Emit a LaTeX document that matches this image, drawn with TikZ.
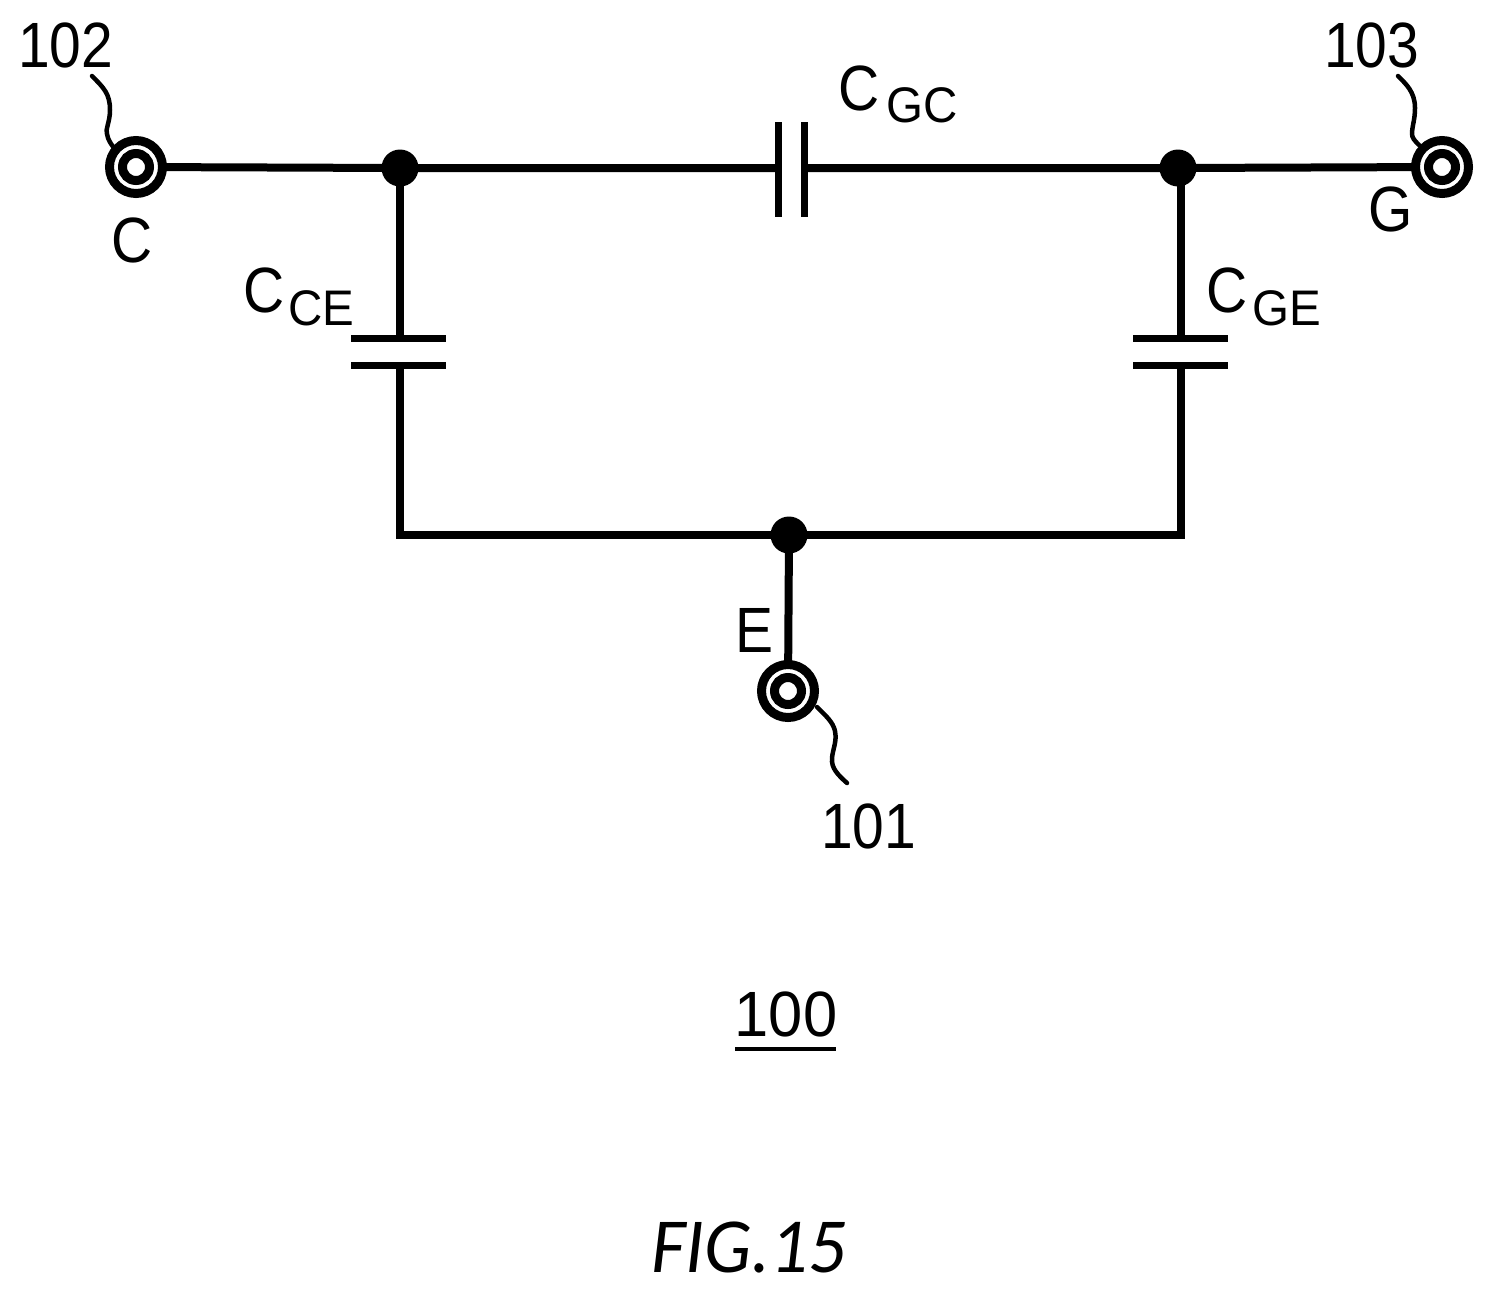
\documentclass[tikz,border=0pt]{standalone}
\usepackage{graphicx}
\usepackage{fontspec}
\setmainfont{Liberation Sans}
\newfontfamily\figfont{Carlito}
\newcommand{\nar}[1]{\scalebox{.89}[1]{#1}}
\newcommand{\narb}[1]{\scalebox{.95}[1]{#1}}
\tikzset{
  x=1pt,y=-1pt,
  wire/.style={line width=8pt},
  lead/.style={line width=4.5pt,line cap=round},
  plate/.style={line width=7pt},
  dotnode/.style={circle,fill=black,inner sep=0pt,minimum size=37pt},
  termout/.style={circle,draw=black,fill=white,line width=9pt,inner sep=0pt,minimum size=53pt},
  termin/.style={circle,draw=black,fill=white,line width=9pt,inner sep=0pt,minimum size=27pt},
  lab/.style={inner sep=0pt,font=\fontsize{64}{64}\selectfont},
  sub/.style={inner sep=0pt,font=\fontsize{50}{50}\selectfont},
}
\begin{document}
\begin{tikzpicture}
\useasboundingbox[fill=white] (0,0) rectangle (1496,1293);
% junctions and terminals
\coordinate (jc) at (400,168);
\coordinate (jg) at (1178,168);
\coordinate (je) at (789,535);
\coordinate (bl) at (400,535);
\coordinate (br) at (1181,535);
\coordinate (tc) at (136,167);
\coordinate (tg) at (1442,167);
\coordinate (te) at (788,691);
\coordinate (gcl) at (778,168);
\coordinate (gcr) at (804,168);
\coordinate (cet) at (400,338);
\coordinate (ceb) at (400,365);
\coordinate (get) at (1181,338);
\coordinate (geb) at (1181,365);
\coordinate (gt) at (1181,168);
% wires
\draw[wire] (tc) -- (jc) -- (gcl);
\draw[wire] (gcr) -- (jg) -- (tg);
\draw[wire] (jc) -- (cet);
\draw[wire] (ceb) -- (bl) -- (br) -- (geb);
\draw[wire] (gt) -- (get);
\draw[wire] (je) -- (te);
% plates
\draw[plate] (778,122) -- (778,217);
\draw[plate] (804,122) -- (804,217);
\draw[plate] (351,338) -- (446,338);
\draw[plate] (351,365) -- (446,365);
\draw[plate] (1133,338) -- (1228,338);
\draw[plate] (1133,365) -- (1228,365);
% dots
\node[dotnode] (d1) at (jc) {};
\node[dotnode] (d2) at (jg) {};
\node[dotnode] (d3) at (je) {};
% leads
\coordinate (l102) at (92,76);
\coordinate (l103) at (1398,76);
\coordinate (l101) at (847,783);
\draw[lead] (l102) .. controls (104,88) and (110,94) .. (110,110) .. controls (110,122) and (105,130) .. (107,134) .. controls (108,140) and (111,144) .. (114,148);
\draw[lead] (l103) .. controls (1406,84) and (1415,92) .. (1415,108) .. controls (1415,120) and (1412,126) .. (1412,134) .. controls (1412,138) and (1415,141) .. (1419,145);
\draw[lead] (l101) .. controls (838,775) and (831,768) .. (832,758) .. controls (833,748) and (837,742) .. (835,731) .. controls (833,722) and (826,716) .. (817,707);
% terminals
\node[termout] (t1) at (tc) {};
\node[termin] (t1i) at (tc) {};
\node[termout] (t2) at (tg) {};
\node[termin] (t2i) at (tg) {};
\node[termout] (t3) at (te) {};
\node[termin] (t3i) at (te) {};
% labels
\node[lab,anchor=base west] (n102) at (18,67) {\nar{102}};
\node[lab,anchor=base west] (n103) at (1324,67) {\nar{103}};
\node[lab,anchor=base west] (n101) at (821,848) {\nar{101}};
\node[lab,anchor=base west] (lc) at (111,262) {\nar{C}};
\node[lab,anchor=base west] (lg) at (1368,231) {\nar{G}};
\node[lab,anchor=base west] (le) at (735,652) {\nar{E}};
\node[lab,anchor=base west] (cgc) at (838,110) {\nar{C}};
\node[sub,anchor=base west] (cgcs) at (886,122) {\narb{GC}};
\node[lab,anchor=base west] (cce) at (243,312) {\nar{C}};
\node[sub,anchor=base west] (cces) at (288,325) {\narb{CE}};
\node[lab,anchor=base west] (cge) at (1206,312) {\nar{C}};
\node[sub,anchor=base west] (cges) at (1252,325) {\narb{GE}};
\node[lab,anchor=base] (n100) at (786,1036) {\scalebox{.96}[1]{100}};
\coordinate (ul) at (735,1049);
\coordinate (ur) at (836,1049);
\draw[line width=3.5pt] (ul) -- (ur);
\node[inner sep=0pt,anchor=base,font=\fontsize{78}{78}\selectfont\figfont\itshape] (fig) at (749,1272) {\scalebox{.96}[1]{FIG.15}};
\end{tikzpicture}
\end{document}
